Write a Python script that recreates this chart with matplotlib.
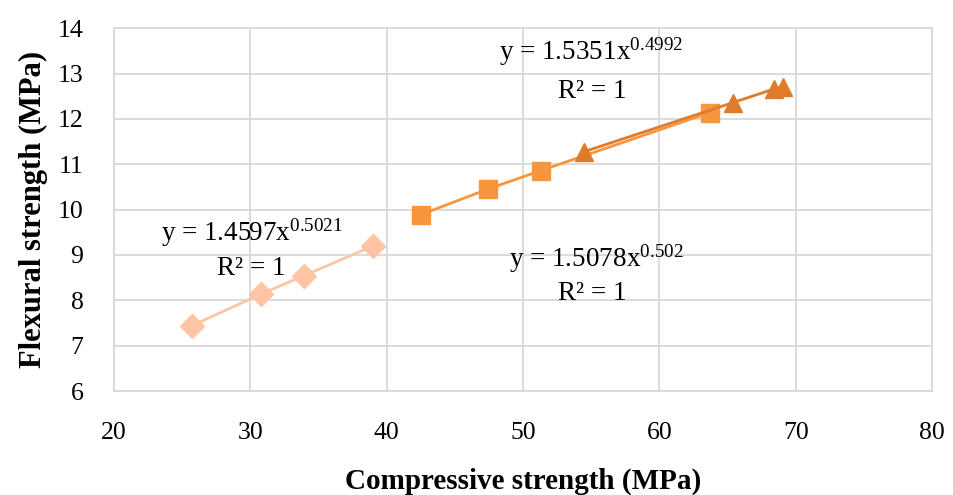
import matplotlib
matplotlib.use('Agg')
import matplotlib.pyplot as plt

plt.rcParams['font.family'] = ['Liberation Serif', 'DejaVu Serif']
plt.rcParams['mathtext.fontset'] = 'custom'
plt.rcParams['mathtext.rm'] = 'Liberation Serif'
plt.rcParams['mathtext.it'] = 'Liberation Serif'
plt.rcParams['mathtext.default'] = 'rm'

# diamonds series
x_d = [25.7, 30.8, 33.9, 39.0]
y_d = [7.44, 8.14, 8.54, 9.20]
# squares series
x_s = [42.5, 47.4, 51.3, 63.7]
y_s = [9.89, 10.45, 10.86, 12.14]
# triangles series
x_t = [54.5, 65.4, 68.4, 69.1]
y_t = [11.28, 12.36, 12.66, 12.70]

fig, ax = plt.subplots(figsize=(9.54, 4.95), dpi=100)
fig.subplots_adjust(left=0.1195, right=0.977, top=0.943, bottom=0.21)

ax.plot(x_d, y_d, color='#FFC4A3', marker='D', markersize=12, linewidth=2)
ax.plot(x_s, y_s, color='#F7963C', marker='s', markersize=13, linewidth=2)
ax.plot(x_t, y_t, color='#E07B2C', marker='^', markersize=13, linewidth=2)

ax.set_xlim(20, 80)
ax.set_ylim(6, 14)
ax.set_xticks(range(20, 81, 10))
ax.set_yticks(range(6, 15, 1))
ax.grid(True, color='#D9D9D9', linewidth=1.3)
ax.set_axisbelow(True)
for s in ax.spines.values():
    s.set_color('#D9D9D9')
    s.set_linewidth(1.3)
ax.tick_params(length=0, labelsize=18.5)
ax.tick_params(axis='x', pad=22)
ax.tick_params(axis='y', pad=22)

ax.set_xlabel('Compressive strength (MPa)', fontsize=21, fontweight='bold', labelpad=17)
ax.set_ylabel('Flexural strength (MPa)', fontsize=22, fontweight='bold', labelpad=7)

fs = 19.5
ax.text(30.1, 9.49, r'y = 1.4597x$^{0.5021}$', fontsize=fs, ha='center', va='center')
ax.text(30.1, 8.70, 'R² = 1', fontsize=fs, ha='center', va='center')
ax.text(55.0, 13.49, r'y = 1.5351x$^{0.4992}$', fontsize=fs, ha='center', va='center')
ax.text(55.1, 12.61, 'R² = 1', fontsize=fs, ha='center', va='center')
ax.text(55.4, 8.92, r'y = 1.5078x$^{0.502}$', fontsize=fs, ha='center', va='center')
ax.text(55.1, 8.14, 'R² = 1', fontsize=fs, ha='center', va='center')

fig.savefig('out.png', dpi=100)
